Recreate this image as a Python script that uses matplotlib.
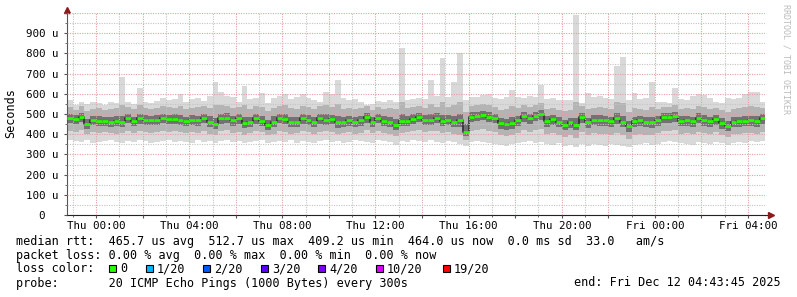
import numpy as np
import matplotlib
matplotlib.use("Agg")
import matplotlib.pyplot as plt
import matplotlib.dates as mdates
from matplotlib.ticker import MultipleLocator, FuncFormatter
from matplotlib.patches import Rectangle

# 15-minute samples, microseconds, starting Wed 2025-12-10 22:45
med = [480, 475, 485, 450, 470, 465, 465, 460, 465, 460,
       480, 465, 478, 470, 470, 470, 480, 475, 475, 470,
       465, 470, 468, 480, 462, 452, 478, 482, 468, 478,
       455, 462, 478, 465, 448, 462, 480, 475, 462, 462,
       478, 472, 462, 478, 472, 475, 458, 460, 468, 462,
       468, 485, 462, 480, 465, 462, 445, 465, 465, 475,
       485, 470, 472, 480, 465, 472, 462, 470, 410, 487,
       490, 495, 485, 480, 455, 450, 453, 470, 488, 478,
       490, 500, 465, 475, 462, 445, 458, 448, 485, 458,
       472, 470, 468, 465, 478, 462, 440, 465, 470, 462,
       458, 470, 485, 485, 488, 465, 468, 465, 482, 470,
       465, 475, 455, 442, 462, 465, 465, 468, 465, 478]

hi = [570, 545, 560, 550, 560, 555, 545, 560, 555, 685,
      560, 550, 630, 560, 555, 565, 580, 570, 575, 600,
      560, 575, 580, 565, 590, 660, 610, 590, 585, 560,
      640, 575, 580, 605, 555, 580, 590, 600, 575, 585,
      600, 580, 570, 560, 610, 600, 670, 580, 570, 575,
      560, 545, 550, 565, 560, 570, 560, 825, 570, 575,
      580, 575, 670, 590, 775, 585, 660, 800, 570, 585,
      585, 595, 600, 580, 575, 585, 620, 585, 580, 590,
      585, 645, 575, 580, 570, 570, 570, 990, 555, 605,
      585, 590, 580, 575, 740, 780, 570, 605, 575, 580,
      660, 560, 560, 555, 630, 575, 570, 590, 600, 595,
      580, 560, 555, 580, 575, 580, 600, 610, 610, 560]

lo = [370, 365, 360, 370, 355, 360, 365, 370, 360, 355,
      365, 360, 370, 365, 355, 360, 365, 370, 360, 365,
      360, 355, 370, 360, 365, 355, 365, 370, 360, 365,
      355, 360, 365, 370, 355, 360, 365, 360, 370, 355,
      365, 360, 355, 365, 370, 360, 365, 355, 360, 370,
      365, 360, 355, 370, 365, 360, 345, 365, 360, 370,
      365, 360, 370, 360, 355, 365, 360, 350, 340, 360,
      365, 360, 355, 350, 345, 340, 350, 355, 360, 365,
      355, 360, 350, 345, 355, 340, 345, 335, 350, 340,
      350, 345, 340, 350, 345, 340, 335, 345, 350, 355,
      345, 350, 360, 365, 360, 355, 350, 345, 360, 355,
      350, 360, 355, 345, 355, 360, 355, 365, 360, 365]

p90 = [535, 520, 540, 515, 525, 530, 520, 525, 530, 545,
       535, 525, 545, 530, 525, 530, 540, 535, 530, 540,
       525, 530, 535, 540, 530, 545, 545, 540, 530, 535,
       545, 525, 540, 535, 515, 530, 540, 545, 530, 525,
       540, 535, 525, 540, 545, 535, 550, 525, 530, 525,
       530, 540, 520, 535, 525, 530, 525, 560, 530, 535,
       540, 530, 550, 535, 560, 535, 545, 560, 510, 540,
       545, 550, 545, 535, 520, 525, 540, 530, 545, 535,
       545, 555, 525, 530, 520, 515, 520, 560, 540, 525,
       530, 535, 530, 525, 560, 555, 510, 530, 525, 520,
       535, 525, 535, 535, 545, 525, 530, 525, 540, 535,
       525, 530, 520, 510, 525, 530, 535, 540, 535, 530]

p10 = [415, 410, 420, 400, 410, 405, 410, 405, 400, 405,
       415, 405, 415, 410, 405, 410, 415, 410, 415, 410,
       405, 410, 405, 415, 400, 395, 415, 420, 405, 410,
       395, 405, 415, 410, 395, 400, 415, 410, 400, 405,
       415, 410, 400, 410, 415, 410, 400, 405, 410, 400,
       405, 420, 405, 415, 405, 400, 390, 405, 410, 415,
       420, 410, 415, 415, 405, 410, 400, 395, 370, 415,
       420, 425, 415, 410, 395, 390, 395, 405, 420, 410,
       420, 425, 400, 405, 395, 385, 395, 380, 410, 395,
       405, 400, 400, 395, 405, 395, 375, 395, 400, 395,
       395, 405, 415, 415, 420, 400, 405, 400, 410, 405,
       400, 410, 395, 385, 400, 400, 405, 405, 400, 410]

p75 = [500, 495, 505, 475, 490, 490, 485, 485, 490, 490,
       500, 485, 500, 495, 490, 495, 500, 495, 500, 495,
       485, 495, 490, 500, 490, 480, 500, 505, 490, 500,
       485, 485, 500, 490, 470, 490, 500, 500, 485, 485,
       500, 495, 485, 500, 500, 495, 490, 485, 490, 485,
       490, 505, 485, 500, 490, 485, 475, 500, 490, 500,
       505, 495, 500, 505, 495, 495, 490, 500, 450, 510,
       510, 515, 510, 500, 480, 475, 485, 490, 510, 500,
       510, 520, 490, 495, 485, 470, 480, 480, 505, 480,
       495, 495, 490, 485, 505, 490, 465, 485, 490, 485,
       485, 490, 505, 505, 510, 490, 490, 485, 505, 495,
       485, 495, 480, 465, 485, 485, 490, 490, 490, 500]

p25 = [455, 450, 460, 425, 445, 440, 440, 435, 440, 435,
       455, 440, 450, 445, 445, 445, 455, 450, 450, 445,
       440, 445, 440, 455, 435, 425, 450, 455, 440, 450,
       430, 435, 450, 440, 420, 435, 455, 450, 435, 435,
       450, 445, 435, 450, 445, 450, 430, 435, 440, 435,
       440, 455, 435, 455, 440, 435, 420, 440, 440, 450,
       460, 445, 445, 455, 440, 445, 435, 435, 390, 460,
       465, 470, 460, 455, 425, 420, 425, 440, 460, 450,
       465, 470, 435, 445, 435, 420, 430, 420, 455, 430,
       445, 440, 440, 435, 450, 435, 410, 435, 440, 435,
       430, 440, 455, 455, 460, 440, 440, 435, 455, 440,
       435, 445, 425, 415, 435, 435, 440, 440, 435, 450]

stats_rtt = ["465.7 us avg", "512.7 us max", "409.2 us min", "464.0 us now", "0.0 ms sd", "33.0   am/s"]
stats_loss = ["0.00 % avg", "0.00 % max", "0.00 % min", "0.00 % now"]
loss_labels = ["0", "1/20", "2/20", "3/20", "4/20", "10/20", "19/20"]
loss_colors = ["#26ff00", "#00b8ff", "#0059ff", "#5e00ff", "#7e00ff", "#dd00ff", "#ff0000"]

W, H = 797, 297
fig = plt.figure(figsize=(W / 100, H / 100), dpi=100)
ax = fig.add_axes([66.5 / W, 1 - 215 / H, (765 - 66.5) / W, (215 - 13) / H])

t0 = np.datetime64('2025-12-10T22:45')
edges = mdates.date2num(t0 + np.arange(len(med) + 1) * np.timedelta64(15, 'm'))
def ext(a):
    return np.append(a, a[-1])

ax.fill_between(edges, ext(lo), ext(hi), step='post', color='#d9d9d9', lw=0, zorder=1)
ax.fill_between(edges, ext(p10), ext(p90), step='post', color='#b4b4b4', lw=0, zorder=1)
ax.fill_between(edges, ext(p25), ext(p75), step='post', color='#727272', lw=0, zorder=1)
ax.step(edges, ext(med), where='post', color='#2e2e2e', lw=1.2, zorder=2)
ax.hlines(med, edges[:-1], edges[1:], color='#26ff00', lw=2.0, zorder=4)

ax.set_xlim(mdates.date2num(np.datetime64('2025-12-10T22:43:45')),
            mdates.date2num(np.datetime64('2025-12-12T04:43:45')))
ax.set_ylim(0, 1000)

mono = 'DejaVu Sans Mono'
ax.xaxis.set_major_locator(mdates.HourLocator(byhour=range(0, 24, 2)))
ax.xaxis.set_minor_locator(mdates.HourLocator())
ax.xaxis.set_major_formatter(FuncFormatter(
    lambda v, p: mdates.num2date(v).strftime('%a %H:%M') if mdates.num2date(v).hour % 4 == 0 else ''))
ax.yaxis.set_major_locator(MultipleLocator(100))
ax.yaxis.set_minor_locator(MultipleLocator(50))
ax.yaxis.set_major_formatter(FuncFormatter(
    lambda v, p: '' if v >= 1000 else ('0  ' if v == 0 else '%d u' % v)))

dot = (0, (1, 1.2))
ax.grid(which='major', color='#e3a0a0', ls=dot, lw=0.8, zorder=3)
ax.grid(which='minor', color='#c4c4c4', ls=dot, lw=0.8, zorder=3)
ax.set_axisbelow(False)

ax.tick_params(which='both', direction='out', colors='#555555', labelcolor='black',
               labelsize=7.8, labelfontfamily=mono, pad=2)
ax.tick_params(which='major', length=2.5)
ax.tick_params(which='minor', length=1.5)
ax.tick_params(axis='y', which='major', pad=3.5)

for s in ['top', 'right']:
    ax.spines[s].set_visible(False)
ax.spines['left'].set_color('#555555')
ax.spines['bottom'].set_color('#222222')
ax.plot([1, 1.008], [0, 0], transform=ax.transAxes, clip_on=False, color='#222222', lw=0.8)
ax.plot([0, 0], [1, 1.012], transform=ax.transAxes, clip_on=False, color='#555555', lw=0.8)
ax.plot([1.008], [0], marker='>', ms=4, color='#8b1a1a', transform=ax.transAxes, clip_on=False)
ax.plot([0], [1.015], marker='^', ms=4, color='#8b1a1a', transform=ax.transAxes, clip_on=False)

fig.text(11 / W, 1 - 113 / H, 'Seconds', rotation=90, va='center', ha='center',
         family=mono, fontsize=8.5)
fig.text(786 / W, 1 - 4 / H, 'RRDTOOL / TOBI OETIKER', rotation=270, va='top', ha='center',
         family=mono, fontsize=6, color='#bbbbbb')

def ftext(x, y, s, **kw):
    fig.text(x / W, 1 - y / H, s, family=mono, fontsize=8.5, va='center', **kw)

ftext(16, 241, 'median rtt:  ' + '  '.join(stats_rtt))
ftext(16, 255, 'packet loss: ' + '  '.join(stats_loss))
ftext(16, 269, 'loss color:')
box_x = [109, 146, 203, 261, 318, 376, 443]
for bx, lab, col in zip(box_x, loss_labels, loss_colors):
    fig.add_artist(Rectangle((bx / W, 1 - 272 / H), 7 / W, 7 / H, transform=fig.transFigure,
                             fc=col, ec='black', lw=0.8))
    ftext(bx + 11, 269, lab)
ftext(16, 283, 'probe:       20 ICMP Echo Pings (1000 Bytes) every 300s')
ftext(781, 283, 'end: Fri Dec 12 04:43:45 2025', ha='right')

fig.savefig('out.png', dpi=100, facecolor='white')
